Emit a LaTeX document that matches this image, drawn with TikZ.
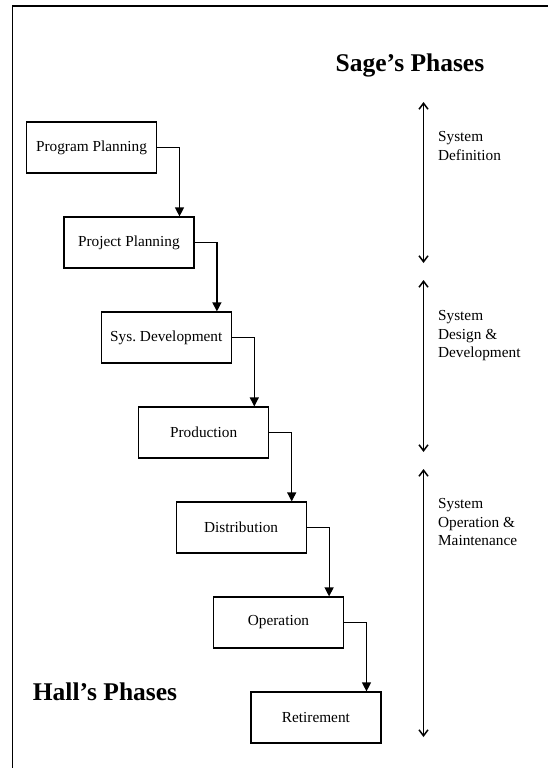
\documentclass[tikz,border=0pt]{standalone}
\usepackage{fontspec}
\setmainfont{Liberation Serif}
\usetikzlibrary{arrows.meta, positioning, calc}
\tikzset{
  every picture/.style={line width=1.2pt},
  phase/.style={draw, minimum width=130pt, minimum height=51pt, inner sep=2pt, font=\fontsize{15.3}{18}\selectfont},
  flow/.style={-{Triangle[length=9pt, width=9pt]}, line width=1.2pt},
  span/.style={{Straight Barb[length=6pt, width=9pt]}-{Straight Barb[length=6pt, width=9pt]}, line width=1.5pt},
  heading/.style={font=\fontsize{25.5}{30}\selectfont\bfseries, inner sep=0pt, anchor=base},
  note/.style={font=\fontsize{15.3}{18.5}\selectfont, align=left, inner sep=0pt, anchor=west},
}

\begin{document}
\begin{tikzpicture}[x=1pt, y=1pt, node distance=42.8pt and -93.8pt]
  \useasboundingbox (0,0) rectangle (548,-768);
  % frame (cut off on the right and at the bottom)
  \draw[line width=1.4pt] (548,-6) -| (12.7,-768);

  \node[heading] (sage) at (410,-71.5) {Sage's Phases};
  \node[heading] (hall) at (105,-700) {Hall's Phases};

  % Hall's phases, one step down and to the right each
  \node[phase] (plan) at (91.5,-147.5) {Program Planning};
  \node[phase, below right=of plan] (proj) {Project Planning};
  \node[phase, below right=of proj] (sysdev) {Sys.\ Development};
  \node[phase, below right=of sysdev] (prod) {Production};
  \node[phase, below right=of prod] (dist) {Distribution};
  \node[phase, below right=of dist] (oper) {Operation};
  \node[phase, below right=of oper] (retire) {Retirement};
  \foreach \a/\b in {plan/proj, proj/sysdev, sysdev/prod, prod/dist, dist/oper, oper/retire}
    \draw[flow] (\a.east) -| ($(\b.north east)+(-15,0)$);

  % Sage's phases
  \coordinate (defTop) at (423.5,-102);
  \coordinate (defBot) at (423.5,-263);
  \coordinate (desTop) at (423.5,-280);
  \coordinate (desBot) at (423.5,-452);
  \coordinate (opTop) at (423.5,-469);
  \coordinate (opBot) at (423.5,-737);
  \draw[span] (defTop) -- (defBot);
  \draw[span] (desTop) -- (desBot);
  \draw[span] (opTop) -- (opBot);
  \node[note] (deflab) at (437.5,-146) {System\\Definition};
  \node[note] (deslab) at (437.5,-336) {System\\Design \&\\Development};
  \node[note] (oplab) at (437.5,-522.5) {System\\Operation \&\\Maintenance};
\end{tikzpicture}
\end{document}
